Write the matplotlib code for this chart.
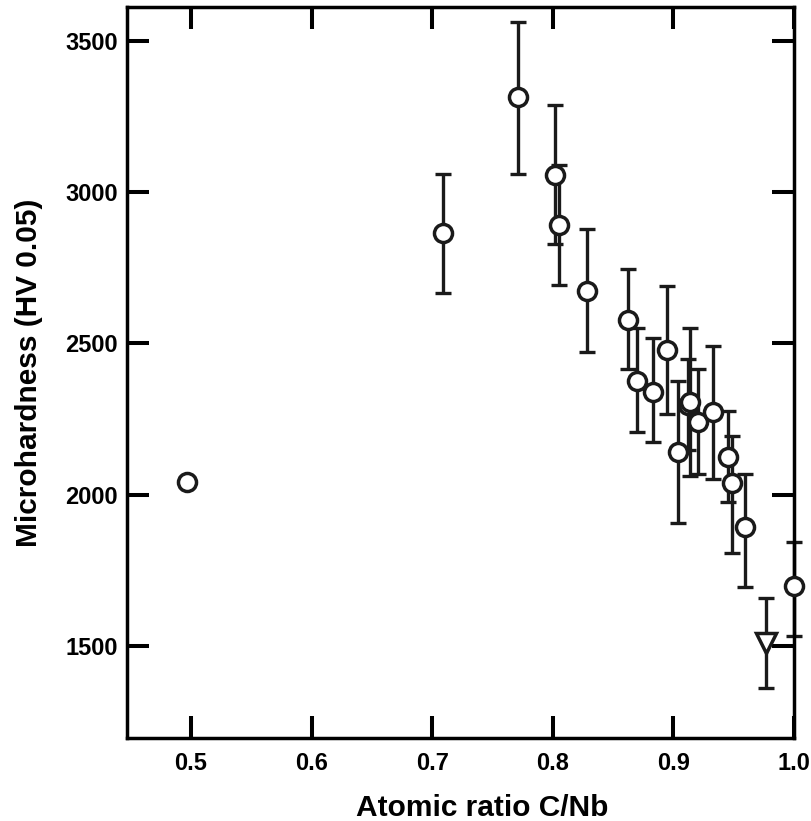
import numpy as np
import matplotlib
matplotlib.use("Agg")
import matplotlib.pyplot as plt

plt.rcParams['font.family'] = ['Liberation Sans', 'DejaVu Sans']
plt.rcParams['font.weight'] = 'bold'

# point without error bar
x_single = [0.497]
y_single = [2043]

# circles with error bars
x_circ = [0.709, 0.771, 0.802, 0.805, 0.828, 0.862, 0.870, 0.883, 0.895,
          0.904, 0.912, 0.914, 0.920, 0.933, 0.945, 0.949, 0.959, 1.000]
y_circ = [2864, 3315, 3056, 2891, 2675, 2576, 2377, 2341, 2477,
          2142, 2298, 2308, 2242, 2272, 2126, 2040, 1894, 1699]
err_lo = [198, 255, 228, 199, 202, 159, 168, 166, 209,
          235, 150, 245, 172, 219, 150, 232, 199, 166]
err_hi = [196, 248, 232, 198, 202, 169, 173, 176, 212,
          235, 152, 242, 175, 218, 150, 155, 176, 145]

# triangle
x_tri = [0.977]
y_tri = [1510]
tri_err = [150]

xticks = [0.5, 0.6, 0.7, 0.8, 0.9, 1.0]
yticks = [1500, 2000, 2500, 3000, 3500]

fig = plt.figure(figsize=(8.11, 8.21), dpi=100)
ax = fig.add_axes([127 / 811, 83 / 821, 667 / 811, 731 / 821])

bar_style = dict(fmt='none', ecolor='#1a1a1a', elinewidth=2.4,
                 capsize=6, capthick=2.4, zorder=2, clip_on=False)
ax.errorbar(x_circ, y_circ, yerr=[err_lo, err_hi], **bar_style)
ax.errorbar(x_tri, y_tri, yerr=tri_err, **bar_style)

mk_style = dict(linestyle='none', markerfacecolor='white', markeredgecolor='#1a1a1a',
                markeredgewidth=2.5, zorder=3, clip_on=False)
ax.plot(x_circ, y_circ, marker='o', markersize=13, **mk_style)
ax.plot(x_single, y_single, marker='o', markersize=13, **mk_style)
ax.plot(x_tri, y_tri, marker='v', markersize=15, **mk_style)

ax.set_xlim(0.447, 1.0)
ax.set_ylim(1196, 3612)
ax.set_xticks(xticks)
ax.set_yticks(yticks)
ax.set_xticklabels(['%.1f' % v for v in xticks], fontsize=17, fontweight='bold')
ax.set_yticklabels([str(v) for v in yticks], fontsize=17, fontweight='bold')
ax.tick_params(axis='both', direction='in', length=16, width=2.9,
               top=True, right=True, color='black')
ax.tick_params(axis='x', pad=10)
ax.tick_params(axis='y', pad=6.5)
for sp in ax.spines.values():
    sp.set_linewidth(2.5)

ax.set_xlabel('Atomic ratio C/Nb', fontsize=21.5, fontweight='bold')
ax.xaxis.set_label_coords(0.532, -0.077)
ax.set_ylabel('Microhardness (HV 0.05)', fontsize=21.5, fontweight='bold')
ax.yaxis.set_label_coords(-0.126, 0.5)

fig.savefig('out.png', dpi=100)
